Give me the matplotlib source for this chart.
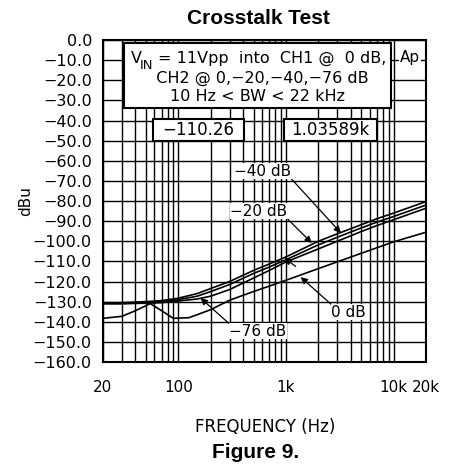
import matplotlib
matplotlib.use('Agg')
import matplotlib.pyplot as plt
from matplotlib.patches import Rectangle

# frequencies (Hz) and crosstalk (dBu)
freq = [20, 30, 50, 70, 100, 150, 200, 300, 500, 700, 1000, 2000, 3000, 5000, 7000, 10000, 20000]
ch_m40 = [-130.5, -130.5, -130.0, -129.5, -128.3, -126.0, -123.5, -120.0, -114.5, -111.3, -107.8,
          -100.0, -96.3, -91.8, -88.8, -86.0, -80.3]
ch_m20 = [-131.0, -131.0, -130.5, -130.0, -129.0, -127.3, -125.0, -121.5, -116.0, -112.8, -109.2,
          -101.8, -98.0, -93.4, -90.5, -87.7, -82.0]
ch_m76 = [-131.0, -131.0, -130.8, -130.5, -129.7, -128.7, -127.3, -124.0, -118.3, -114.5, -110.3,
          -103.8, -100.0, -95.2, -92.2, -89.3, -83.6]

freq_0 = [20, 30, 40, 55, 70, 90, 125, 150, 200, 300, 470, 700, 1000, 2000, 5000, 10000, 20000]
ch_0 = [-138.3, -137.3, -134.5, -131.0, -134.5, -138.3, -138.0, -136.5, -134.0, -129.3, -125.5,
        -122.3, -119.4, -113.6, -106.0, -100.3, -95.5]

xticks = [20, 100, 1000, 10000, 20000]
xtick_labels = ['20', '100', '1k', '10k', '20k']
yticks = [0, -10, -20, -30, -40, -50, -60, -70, -80, -90, -100, -110, -120, -130, -140, -150, -160]
ytick_labels = ['0.0'] + ['\u2212%d.0' % -v for v in yticks[1:]]

plt.rcParams['font.family'] = 'DejaVu Sans'

fig = plt.figure(figsize=(4.53, 4.66), dpi=100)
ax = fig.add_axes([103 / 453, 1 - 362 / 466, 323 / 453, 322 / 466])

ax.set_xscale('log')
ax.set_xlim(20, 20000)
ax.set_ylim(-160, 0)

# grid: every integer multiple on x, every 10 dB on y
ax.set_xticks(xticks)
ax.set_xticklabels(xtick_labels)
ax.set_xticks([m * 10 ** d for d in range(1, 5) for m in range(1, 10)
               if 20 <= m * 10 ** d <= 20000], minor=True)
ax.set_yticks(yticks)
ax.set_yticklabels(ytick_labels)
ax.grid(True, which='both', color='black', linewidth=1.0)
ax.tick_params(axis='both', which='both', length=0, labelsize=11)
ax.tick_params(axis='y', labelsize=11.5, pad=8)
ax.tick_params(axis='x', pad=13)
ax.xaxis.set_minor_formatter(plt.NullFormatter())
for sp in ax.spines.values():
    sp.set_linewidth(1.5)

for vals in [ch_m40, ch_m20, ch_m76]:
    ax.plot(freq, vals, color='black', linewidth=1.2, zorder=3)
ax.plot(freq_0, ch_0, color='black', linewidth=1.2, zorder=3)

# info box
ax.add_patch(Rectangle((0.065, 0.789), 0.827, 0.202, transform=ax.transAxes,
                       facecolor='white', edgecolor='black', linewidth=1.5, zorder=5))
ax.text(0.085, 0.944, 'V', transform=ax.transAxes, ha='left', va='center',
        fontsize=11.5, zorder=6)
ax.text(0.114, 0.922, 'IN', transform=ax.transAxes, ha='left', va='center',
        fontsize=9.5, zorder=6)
ax.text(0.170, 0.944, '= 11Vpp  into  CH1 @  0 dB,', transform=ax.transAxes,
        ha='left', va='center', fontsize=11.5, zorder=6)
ax.text(0.478, 0.882, '  CH2 @ 0,\u221220,\u221240,\u221276 dB', transform=ax.transAxes,
        ha='center', va='center', fontsize=11.5, zorder=6)
ax.text(0.478, 0.823, '10 Hz < BW < 22 kHz', transform=ax.transAxes,
        ha='center', va='center', fontsize=11.5, zorder=6)

# readout boxes
for x0, w, txt in [(0.155, 0.282, '\u2212110.26'), (0.560, 0.288, '1.03589k')]:
    ax.add_patch(Rectangle((x0, 0.686), w, 0.069, transform=ax.transAxes,
                           facecolor='white', edgecolor='black', linewidth=1.5, zorder=5))
    ax.text(x0 + w / 2, 0.72, txt, transform=ax.transAxes, ha='center', va='center',
            fontsize=12, zorder=6)

ax.text(0.950, 0.947, 'Ap', transform=ax.transAxes, ha='center', va='center', fontsize=11,
        bbox=dict(facecolor='white', edgecolor='none', pad=0.5), zorder=6)

# curve labels with arrows
arrow = dict(arrowstyle='-|>', color='black', linewidth=0.9, mutation_scale=10, shrinkA=0, shrinkB=0)
labels = [
    ('\u221240 dB', (3240, -95.9), (606, -65.1), (1.0, 0.0)),
    ('\u221220 dB', (1740, -100.9), (558, -85.0), (1.0, 0.0)),
    ('\u221276 dB', (161, -128.2), (546, -144.6), (0.0, 1.0)),
    ('0 dB', (1370, -117.8), (3840, -135.2), (0.0, 1.0)),
]
for txt, tip, pos, rel in labels:
    props = dict(arrow)
    props['relpos'] = rel
    ax.annotate(txt, xy=tip, xytext=pos, ha='center', va='center', fontsize=11,
                bbox=dict(facecolor='white', edgecolor='none', pad=0.3),
                arrowprops=props, zorder=6)
ax.annotate('', xy=(970, -108.3), xytext=(1230, -112.5),
            arrowprops=dict(arrow), zorder=6)

ax.set_xlabel('FREQUENCY (Hz)', fontsize=12)
ax.xaxis.set_label_coords(0.502, -0.202)
ax.xaxis.label.set_va('center')
ax.set_ylabel('dBu', fontsize=11)
ax.yaxis.set_label_coords(-0.241, 0.5)
ax.yaxis.label.set_va('center')

fig.text(258 / 453, 1 - 18 / 466, 'Crosstalk Test', ha='center', va='center',
         fontsize=15, fontweight='bold', family='Liberation Sans')
fig.text(256 / 453, 1 - 453 / 466, 'Figure 9.', ha='center', va='center',
         fontsize=15, fontweight='bold', family='Liberation Sans')

fig.savefig('out.png', dpi=100)
